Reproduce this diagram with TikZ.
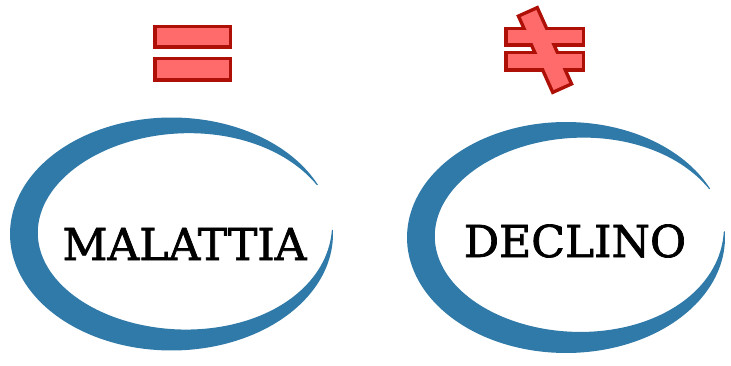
\documentclass[tikz,border=0pt]{standalone}
\usepackage{fontspec}
\setmainfont{DejaVu Serif}
\newfontfamily\labelfont[FakeBold=1.6]{DejaVu Serif}
\definecolor{brush}{HTML}{2F7AA8}
\definecolor{signline}{HTML}{AE1008}
\definecolor{signfill}{HTML}{FF6B6B}
\tikzset{
  signedge/.style={draw=signline, line width=7pt, line join=miter},
  signbody/.style={fill=signfill},
  label/.style={inner sep=0pt, font=\labelfont\fontsize{44}{44}\selectfont},
}
\begin{document}
\begin{tikzpicture}[x=1pt,y=-1pt]
\useasboundingbox (0,0) rectangle (731,366);
% equals sign
\path[signedge] (156.5,28.5) rectangle (228.5,45.5);
\path[signedge] (156.5,60.5) rectangle (228.5,78.5);
\path[signbody] (156.5,28.5) rectangle (228.5,45.5);
\path[signbody] (156.5,60.5) rectangle (228.5,78.5);
% not-equal sign
\path[signedge] (507.5,30.5) rectangle (581.5,43.5);
\path[signedge] (507.5,54.5) rectangle (581.5,68.5);
\path[signedge, rotate around={-65.8:(545,50)}] (505,41.5) rectangle (585,58.5);
\path[signbody] (507.5,30.5) rectangle (581.5,43.5);
\path[signbody] (507.5,54.5) rectangle (581.5,68.5);
\path[signbody, rotate around={-65.8:(545,50)}] (505,41.5) rectangle (585,58.5);
% left brush ellipse
\fill[brush] plot[domain=-2:335, samples=160, variable=\t]
  ({171.5+161.5*cos(\t)}, {234+116.5*sin(\t)})
  -- plot[domain=335:-2, samples=160, variable=\t]
  ({171.5+(161.5-(1+27*sin(0.534*(\t+2))))*cos(\t)}, {234+(116.5-(1+27*sin(0.534*(\t+2))))*sin(\t)})
  -- cycle;
% right brush ellipse
\fill[brush] plot[domain=-3:335, samples=160, variable=\t]
  ({566+159*cos(\t)}, {237.5+115.5*sin(\t)})
  -- plot[domain=335:-3, samples=160, variable=\t]
  ({566+(159-(1+27*sin(0.5325*(\t+3))))*cos(\t)}, {237.5+(115.5-(1+27*sin(0.5325*(\t+3))))*sin(\t)})
  -- cycle;
\node[label] (malattia) at (184.5,244) {MALATTIA};
\node[label] (declino) at (575,241) {DECLINO};
\end{tikzpicture}
\end{document}
